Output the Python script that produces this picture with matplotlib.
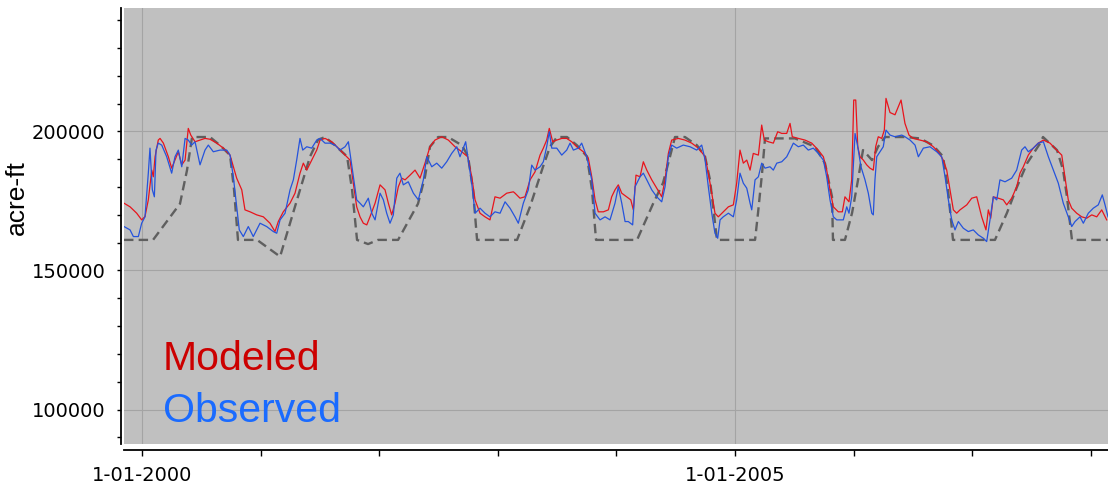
import matplotlib
matplotlib.use("Agg")
import matplotlib.pyplot as plt
from matplotlib.ticker import FixedLocator, MultipleLocator, NullFormatter

# ---------------- data (decimal years, acre-ft) ----------------
rule_t = [1999.848, 2000.093, 2000.320, 2000.379, 2000.422, 2000.573, 2000.658, 2000.742,
          2000.776, 2000.809, 2000.970, 2001.164, 2001.332, 2001.417, 2001.484, 2001.543,
          2001.627, 2001.729, 2001.771, 2001.813, 2001.906, 2001.990, 2002.159, 2002.327,
          2002.386, 2002.428, 2002.496, 2002.580, 2002.698, 2002.749, 2002.791, 2002.825,
          2003.162, 2003.272, 2003.381, 2003.440, 2003.499, 2003.583, 2003.668, 2003.752,
          2003.794, 2003.828, 2004.174, 2004.309, 2004.393, 2004.452, 2004.494, 2004.578,
          2004.680, 2004.747, 2004.789, 2004.848, 2005.169, 2005.194, 2005.228, 2005.253,
          2005.506, 2005.675, 2005.759, 2005.818, 2005.826, 2005.927, 2005.987, 2006.037,
          2006.079, 2006.155, 2006.206, 2006.265, 2006.433, 2006.560, 2006.670, 2006.754,
          2006.796, 2006.838, 2007.192, 2007.293, 2007.378, 2007.462, 2007.572, 2007.597,
          2007.715, 2007.766, 2007.799, 2007.841, 2008.145]
rule_v = [161000, 161000, 174000, 186000, 198000, 198000, 195000, 191500,
          179000, 161000, 161000, 155000, 179000, 191000, 197000, 198000,
          195000, 191000, 179000, 161000, 159500, 161000, 161000, 174000,
          183700, 194500, 198000, 198000, 195000, 191000, 179000, 161000,
          161000, 173000, 187300, 194500, 198000, 198000, 195000, 191000,
          179000, 161000, 161000, 174000, 181500, 191000, 198000, 198000,
          195000, 191000, 182600, 161000, 161000, 170700, 185000, 197500,
          197500, 194500, 188500, 176500, 161000, 161000, 170700, 182500,
          193300, 189700, 194500, 198000, 198000, 197500, 195000, 191000,
          179000, 161000, 161000, 170700, 180100, 188500, 195700, 198000,
          193300, 186200, 176500, 161000, 161000]

modeled_t = [1999.848, 1999.899, 1999.955, 1999.997, 2000.025, 2000.053, 2000.082, 2000.095,
             2000.110, 2000.137, 2000.152, 2000.180, 2000.222, 2000.250, 2000.278, 2000.306,
             2000.335, 2000.363, 2000.390, 2000.411, 2000.447, 2000.489, 2000.531, 2000.573,
             2000.630, 2000.686, 2000.742, 2000.770, 2000.798, 2000.841, 2000.868, 2000.911,
             2000.967, 2001.023, 2001.079, 2001.121, 2001.149, 2001.191, 2001.248, 2001.290,
             2001.332, 2001.360, 2001.389, 2001.431, 2001.473, 2001.501, 2001.543, 2001.600,
             2001.655, 2001.712, 2001.754, 2001.782, 2001.810, 2001.838, 2001.866, 2001.895,
             2001.922, 2001.965, 2002.007, 2002.049, 2002.077, 2002.105, 2002.133, 2002.161,
             2002.190, 2002.218, 2002.260, 2002.302, 2002.344, 2002.386, 2002.428, 2002.470,
             2002.527, 2002.583, 2002.639, 2002.696, 2002.746, 2002.780, 2002.808, 2002.850,
             2002.892, 2002.934, 2002.976, 2003.019, 2003.075, 2003.131, 2003.145, 2003.187,
             2003.229, 2003.272, 2003.314, 2003.356, 2003.384, 2003.412, 2003.434, 2003.463,
             2003.497, 2003.539, 2003.581, 2003.623, 2003.665, 2003.721, 2003.763, 2003.792,
             2003.820, 2003.847, 2003.890, 2003.932, 2003.960, 2003.988, 2004.016, 2004.045,
             2004.087, 2004.121, 2004.143, 2004.165, 2004.199, 2004.227, 2004.256, 2004.298,
             2004.340, 2004.382, 2004.410, 2004.438, 2004.466, 2004.522, 2004.578, 2004.635,
             2004.691, 2004.747, 2004.775, 2004.804, 2004.831, 2004.859, 2004.901, 2004.944,
             2004.986, 2005.014, 2005.042, 2005.070, 2005.099, 2005.127, 2005.154, 2005.197,
             2005.225, 2005.247, 2005.281, 2005.323, 2005.360, 2005.394, 2005.436, 2005.464,
             2005.483, 2005.534, 2005.590, 2005.647, 2005.702, 2005.745, 2005.773, 2005.801,
             2005.829, 2005.871, 2005.905, 2005.927, 2005.961, 2005.984, 2006.001, 2006.018,
             2006.035, 2006.054, 2006.082, 2006.110, 2006.138, 2006.166, 2006.186, 2006.208,
             2006.237, 2006.259, 2006.273, 2006.307, 2006.349, 2006.400, 2006.433, 2006.467,
             2006.503, 2006.560, 2006.616, 2006.672, 2006.714, 2006.756, 2006.785, 2006.813,
             2006.841, 2006.869, 2006.897, 2006.954, 2006.996, 2007.038, 2007.080, 2007.116,
             2007.136, 2007.156, 2007.178, 2007.220, 2007.262, 2007.291, 2007.333, 2007.375,
             2007.403, 2007.431, 2007.473, 2007.515, 2007.557, 2007.600, 2007.656, 2007.712,
             2007.755, 2007.782, 2007.810, 2007.839, 2007.881, 2007.923, 2007.965, 2008.008,
             2008.050, 2008.092, 2008.134]
modeled_v = [174200, 172900, 170600, 168200, 169400, 175400, 186100, 183700,
             190900, 196900, 197500, 195800, 190900, 186800, 189700, 192700,
             188000, 189700, 201100, 198700, 196300, 196900, 197500, 197200,
             195800, 194000, 191500, 187300, 183200, 179000, 171800, 171100,
             170000, 169300, 167000, 164000, 167600, 171100, 174200, 177800,
             185000, 188600, 186100, 189700, 193300, 196900, 197500, 196300,
             194000, 191500, 189700, 181400, 172900, 169300, 167000, 166400,
             169300, 174200, 180800, 179000, 174200, 170000, 174200, 180100,
             183200, 182600, 184300, 186100, 183200, 188600, 194500, 196900,
             198100, 196900, 194500, 192700, 190900, 183700, 175400, 170600,
             169300, 168200, 176500, 176000, 177800, 178300, 177800, 176000,
             176500, 182600, 185500, 191500, 194000, 196900, 201100, 196300,
             196900, 197500, 197500, 196300, 194500, 192700, 190400, 183700,
             175400, 171100, 171100, 171800, 176500, 179000, 180800, 177800,
             176500, 175400, 171800, 184300, 183700, 189100, 186100, 182600,
             179600, 176500, 182600, 192100, 196900, 197500, 196900, 195800,
             194000, 191000, 185000, 177800, 170600, 169300, 171100, 172900,
             173600, 181400, 193300, 188600, 189700, 186100, 192100, 191500,
             202300, 196900, 196300, 195800, 199900, 199300, 199300, 202900,
             198100, 197500, 196900, 195800, 193300, 190900, 186100, 179000,
             172900, 171100, 171100, 176500, 174700, 182600, 211300, 211300,
             194500, 190900, 189700, 188000, 186800, 186100, 194500, 198100,
             197500, 200500, 211900, 206800, 206000, 211300, 202900, 198700,
             197500, 196900, 196300, 194500, 192700, 189700, 186100, 179000,
             171800, 170600, 171800, 173600, 176000, 176500, 169300, 164600,
             171800, 168800, 176500, 176000, 175400, 173600, 176000, 180100,
             185000, 187300, 191500, 194000, 195800, 196900, 195800, 193300,
             191500, 183700, 175400, 172400, 170600, 169300, 168800, 170000,
             169300, 171800, 168200]

observed_t = [1999.848, 1999.899, 1999.927, 1999.969, 1999.997, 2000.025, 2000.053, 2000.067,
              2000.087, 2000.104, 2000.118, 2000.137, 2000.166, 2000.208, 2000.250, 2000.278,
              2000.306, 2000.335, 2000.363, 2000.390, 2000.419, 2000.447, 2000.489, 2000.531,
              2000.559, 2000.601, 2000.658, 2000.714, 2000.742, 2000.770, 2000.798, 2000.820,
              2000.854, 2000.896, 2000.938, 2000.967, 2000.995, 2001.051, 2001.107, 2001.136,
              2001.164, 2001.206, 2001.248, 2001.276, 2001.304, 2001.332, 2001.355, 2001.389,
              2001.431, 2001.473, 2001.501, 2001.543, 2001.585, 2001.627, 2001.669, 2001.712,
              2001.740, 2001.762, 2001.782, 2001.810, 2001.838, 2001.866, 2001.908, 2001.937,
              2001.965, 2002.007, 2002.035, 2002.063, 2002.091, 2002.119, 2002.148, 2002.175,
              2002.203, 2002.245, 2002.288, 2002.330, 2002.372, 2002.401, 2002.443, 2002.485,
              2002.527, 2002.569, 2002.611, 2002.654, 2002.681, 2002.709, 2002.729, 2002.751,
              2002.780, 2002.808, 2002.850, 2002.892, 2002.934, 2002.976, 2003.019, 2003.061,
              2003.103, 2003.145, 2003.173, 2003.215, 2003.257, 2003.286, 2003.314, 2003.356,
              2003.384, 2003.412, 2003.434, 2003.455, 2003.497, 2003.539, 2003.581, 2003.609,
              2003.637, 2003.679, 2003.707, 2003.750, 2003.792, 2003.820, 2003.862, 2003.904,
              2003.946, 2003.988, 2004.016, 2004.045, 2004.073, 2004.100, 2004.137, 2004.157,
              2004.199, 2004.227, 2004.256, 2004.298, 2004.340, 2004.382, 2004.410, 2004.438,
              2004.466, 2004.508, 2004.564, 2004.621, 2004.677, 2004.719, 2004.747, 2004.775,
              2004.804, 2004.831, 2004.854, 2004.874, 2004.901, 2004.944, 2004.986, 2005.014,
              2005.042, 2005.070, 2005.099, 2005.127, 2005.141, 2005.169, 2005.197, 2005.225,
              2005.253, 2005.295, 2005.323, 2005.352, 2005.394, 2005.436, 2005.464, 2005.492,
              2005.534, 2005.576, 2005.618, 2005.660, 2005.702, 2005.745, 2005.773, 2005.801,
              2005.829, 2005.858, 2005.913, 2005.942, 2005.961, 2005.984, 2006.012, 2006.035,
              2006.062, 2006.096, 2006.124, 2006.153, 2006.166, 2006.180, 2006.195, 2006.223,
              2006.250, 2006.273, 2006.307, 2006.349, 2006.406, 2006.433, 2006.476, 2006.518,
              2006.546, 2006.588, 2006.644, 2006.701, 2006.743, 2006.771, 2006.799, 2006.827,
              2006.855, 2006.883, 2006.925, 2006.967, 2007.009, 2007.051, 2007.094, 2007.122,
              2007.150, 2007.178, 2007.207, 2007.234, 2007.277, 2007.333, 2007.375, 2007.417,
              2007.445, 2007.473, 2007.515, 2007.557, 2007.600, 2007.642, 2007.684, 2007.726,
              2007.768, 2007.810, 2007.839, 2007.867, 2007.909, 2007.937, 2007.979, 2008.021,
              2008.063, 2008.097, 2008.120, 2008.145]
observed_v = [165800, 164600, 162200, 162200, 167000, 169300, 185000, 194000,
              179000, 176500, 193300, 195800, 195100, 190900, 185000, 190900,
              193300, 187300, 197500, 196900, 195100, 196300, 188000, 193300,
              195100, 192700, 193300, 193300, 191500, 183700, 172900, 164600,
              162200, 165800, 162200, 164600, 167000, 165800, 164000, 163400,
              168200, 170600, 179000, 182600, 189700, 197500, 193300, 194500,
              194000, 196900, 197500, 195800, 195800, 195100, 193300, 194500,
              196300, 189700, 183700, 175400, 174200, 172900, 176000, 170600,
              168200, 177800, 175400, 170600, 167000, 170000, 183200, 185000,
              180800, 181900, 177800, 175400, 182600, 190900, 187300, 188600,
              186800, 189100, 192100, 194500, 190900, 194000, 196300, 189700,
              181400, 170600, 172400, 170600, 169300, 171100, 170600, 174700,
              172400, 169300, 167000, 174200, 179000, 187900, 186100, 187300,
              189100, 194500, 199900, 194000, 194000, 191500, 193300, 195800,
              193300, 194000, 195800, 190900, 182600, 170600, 168200, 169300,
              168200, 174200, 180100, 174200, 167600, 167600, 166400, 180100,
              183700, 185000, 182600, 179000, 176500, 174700, 180100, 190900,
              195100, 194000, 195100, 194500, 193300, 195100, 190000, 180100,
              170600, 163400, 161600, 168200, 169300, 170600, 169300, 175400,
              185000, 181400, 179600, 174200, 171800, 182600, 183700, 188600,
              186800, 187300, 186100, 188600, 189100, 190900, 193300, 195800,
              194500, 195100, 193300, 194000, 192100, 189700, 183700, 175400,
              169300, 168200, 168200, 172900, 170600, 176500, 199300, 194500,
              187300, 182600, 177800, 170600, 170000, 182600, 190900, 192700,
              194500, 200500, 198700, 198100, 198700, 198100, 196900, 195100,
              190900, 194000, 194500, 192700, 190900, 183700, 175400, 168200,
              164600, 167600, 165200, 164000, 164600, 162800, 161600, 160400,
              168200, 176500, 175400, 182600, 181900, 183200, 186100, 193300,
              194500, 192700, 194000, 195800, 196300, 190900, 186100, 181400,
              174200, 169300, 165800, 167600, 169300, 167000, 170600, 172400,
              173600, 177200, 173600, 169300]

x_major = [2000, 2005]
x_major_labels = ["1-01-2000", "1-01-2005"]
y_major = [100000, 150000, 200000]
y_major_labels = ["100000", "150000", "200000"]
series_names = ["Modeled", "Observed"]
y_title = "acre-ft"

# ---------------- figure ----------------
fig = plt.figure(figsize=(11.08, 4.86), dpi=100)
ax = fig.add_axes([124 / 1108, 1 - 444 / 486, 984 / 1108, 436 / 486])
ax.set_facecolor("#c0c0c0")

ax.plot(rule_t, rule_v, color="#5f5f5f", lw=1.7, ls=(0, (4, 2.2)), zorder=3)
ax.plot(modeled_t, modeled_v, color="#e8141c", lw=0.9, zorder=4)
ax.plot(observed_t, observed_v, color="#2553dc", lw=0.9, zorder=5)

ax.set_xlim(1999.848, 2008.145)
ax.set_ylim(87600, 244400)

ax.xaxis.set_major_locator(FixedLocator(x_major))
ax.set_xticklabels(x_major_labels)
ax.xaxis.set_minor_locator(MultipleLocator(1))
ax.xaxis.set_minor_formatter(NullFormatter())
ax.yaxis.set_major_locator(FixedLocator(y_major))
ax.set_yticklabels(y_major_labels)
ax.yaxis.set_minor_locator(MultipleLocator(10000))
ax.yaxis.set_minor_formatter(NullFormatter())

ax.grid(True, which="major", color="#a4a4a4", lw=0.8, zorder=1)
ax.set_axisbelow(True)

for s in ["top", "right"]:
    ax.spines[s].set_visible(False)
ax.spines["left"].set_position(("outward", 2.5))
ax.spines["bottom"].set_position(("outward", 4))
ax.spines["left"].set_linewidth(1.3)
ax.spines["bottom"].set_linewidth(1.3)

ax.tick_params(axis="x", which="both", direction="out", length=4, width=1, pad=8,
               labelsize=14, colors="black")
ax.tick_params(axis="y", which="both", direction="out", length=3, width=1, pad=8,
               labelsize=14, colors="black")

fig.text(17 / 1108, 1 - 197.5 / 486, y_title, rotation=90, fontsize=19,
         family="Liberation Sans", ha="center", va="center")

fig.text(163 / 1108, 1 - 370 / 486, series_names[0], color="#cc0000", fontsize=29.5,
         family="Liberation Sans", ha="left", va="baseline")
fig.text(163 / 1108, 1 - 421.7 / 486, series_names[1], color="#1a6bff", fontsize=29.5,
         family="Liberation Sans", ha="left", va="baseline")

fig.savefig("out.png", dpi=100, facecolor="white")
